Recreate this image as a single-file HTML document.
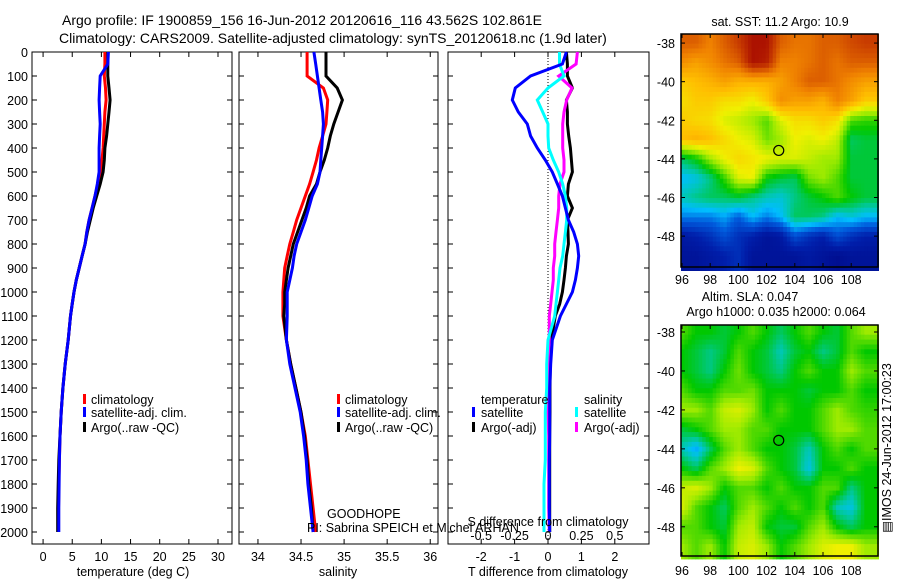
<!DOCTYPE html>
<html><head><meta charset="utf-8"><style>
html,body{margin:0;padding:0;background:#fff}
svg{display:block;font-family:"Liberation Sans",sans-serif}
</style></head><body>
<svg id="fig" width="900" height="580" viewBox="0 0 900 580" xmlns="http://www.w3.org/2000/svg">
<rect width="900" height="580" fill="#fff"/>
<text x="62" y="25" font-size="14">Argo profile: IF 1900859_156 16-Jun-2012 20120616_116 43.562S 102.861E</text>
<text x="59" y="43" font-size="14">Climatology: CARS2009. Satellite-adjusted climatology: synTS_20120618.nc (1.9d later)</text>
<g id="maps"></g>
<g id="panels"></g>
</svg>
<script>
// ---------- data ----------
const depths = [0,50,100,150,200,250,300,350,400,450,500,550,600,650,700,750,800,850,900,950,1000,1050,1100,1200,1300,1400,1500,1600,1700,1800,1900,2000];
// temperature (deg C)
const tempClim = [10.6,10.6,10.5,10.7,10.8,10.6,10.5,10.4,10.3,10.1,9.9,9.4,8.9,8.4,7.9,7.5,7.2,6.7,6.2,5.7,5.3,5.0,4.7,4.3,3.8,3.4,3.1,2.9,2.8,2.7,2.65,2.6];
const tempSat  = [11.2,11.1,9.8,9.7,9.6,9.7,9.8,9.7,9.6,9.6,9.6,9.3,8.9,8.4,7.9,7.5,7.2,6.7,6.2,5.7,5.3,5.0,4.7,4.3,3.8,3.4,3.1,2.9,2.8,2.75,2.7,2.7];
const tempArgo = [11.1,11.1,11.1,11.3,11.5,11.3,11.1,10.9,10.6,10.5,10.3,9.8,9.2,8.6,8.1,7.6,7.2,6.7,6.2,5.7,5.3,5.0,4.7,4.3,3.8,3.4,3.1,2.9,2.7,2.6,2.5,2.5];
// salinity
const salClim = [34.57,34.57,34.57,34.76,34.81,34.80,34.79,34.75,34.71,34.68,34.64,34.60,34.55,34.50,34.45,34.41,34.37,34.34,34.31,34.30,34.29,34.29,34.29,34.33,34.38,34.44,34.50,34.55,34.58,34.61,34.64,34.67];
const salSat  = [34.65,34.67,34.69,34.71,34.73,34.75,34.76,34.75,34.74,34.73,34.72,34.69,34.63,34.59,34.55,34.50,34.45,34.42,34.40,34.37,34.34,34.34,34.34,34.33,34.37,34.43,34.49,34.53,34.56,34.58,34.61,34.64];
const salArgo = [34.79,34.79,34.79,34.92,34.98,34.93,34.88,34.84,34.81,34.77,34.72,34.68,34.60,34.56,34.51,34.46,34.41,34.38,34.35,34.33,34.31,34.31,34.30,34.33,34.38,34.44,34.50,34.54,34.57,34.59,34.62,34.64];
// differences from climatology
const dTsat  = [0.55,0.43,-0.52,-0.98,-1.07,-0.89,-0.62,-0.52,-0.32,-0.08,0.13,0.28,0.43,0.52,0.61,0.77,0.88,0.92,0.88,0.82,0.73,0.55,0.37,0.13,0.08,0.05,0.05,0.05,0.04,0.04,0.04,0.05];
const dTargo = [0.55,0.58,0.58,0.73,0.55,0.58,0.58,0.62,0.67,0.70,0.73,0.61,0.58,0.73,0.58,0.60,0.61,0.55,0.52,0.48,0.43,0.35,0.22,0.10,0.07,0.06,0.06,0.05,0.05,0.05,0.05,0.05];
const dSsat  = [0.086,0.086,0.12,0.0,-0.08,-0.04,0.0,0.0,0.005,0.04,0.08,0.11,0.13,0.14,0.14,0.13,0.12,0.11,0.09,0.08,0.07,0.06,0.05,0.0,-0.01,-0.01,-0.02,-0.02,-0.02,-0.03,-0.03,-0.03];
const dSargo = [0.22,0.21,0.08,0.18,0.14,0.12,0.11,0.11,0.11,0.12,0.12,0.09,0.08,0.08,0.07,0.06,0.05,0.05,0.04,0.04,0.03,0.02,0.01,0.01,0.0,0.0,0.0,0.005,0.005,0.005,0.005,0.01];
const depthTicks = [0,100,200,300,400,500,600,700,800,900,1000,1100,1200,1300,1400,1500,1600,1700,1800,1900,2000];
const tempTicks = [0,5,10,15,20,25,30];
const salTicks = [34,34.5,35,35.5,36];
const dTTicks = [-2,-1,0,1,2];
const dSTicks = [-0.5,-0.25,0,0.25,0.5];
const latTicks = [-38,-40,-42,-44,-46,-48];
const lonTicks = [96,98,100,102,104,106,108];
// SST map (colour index 0..1), rows lat -38..-49, cols lon 96..109
const sstGrid = [
[0.85,0.85,0.8,0.85,0.9,0.97,0.97,0.85,0.82,0.82,0.85,0.85,0.88,0.9],
[0.78,0.75,0.78,0.82,0.85,0.97,0.95,0.8,0.8,0.82,0.85,0.82,0.85,0.85],
[0.68,0.7,0.72,0.75,0.72,0.72,0.72,0.75,0.8,0.85,0.85,0.82,0.78,0.75],
[0.65,0.68,0.68,0.65,0.65,0.62,0.68,0.78,0.75,0.75,0.72,0.8,0.75,0.68],
[0.68,0.66,0.65,0.6,0.58,0.55,0.5,0.6,0.65,0.65,0.68,0.65,0.5,0.48],
[0.7,0.72,0.7,0.66,0.62,0.6,0.52,0.55,0.62,0.6,0.62,0.58,0.4,0.42],
[0.4,0.45,0.55,0.62,0.66,0.64,0.62,0.6,0.6,0.58,0.55,0.55,0.42,0.42],
[0.3,0.32,0.38,0.48,0.6,0.62,0.45,0.42,0.4,0.52,0.55,0.5,0.42,0.42],
[0.35,0.38,0.4,0.4,0.42,0.38,0.35,0.33,0.38,0.42,0.45,0.5,0.45,0.42],
[0.25,0.25,0.25,0.28,0.22,0.3,0.25,0.3,0.4,0.4,0.38,0.3,0.33,0.3],
[0.1,0.12,0.15,0.2,0.15,0.12,0.08,0.1,0.2,0.15,0.12,0.2,0.15,0.12],
[0.08,0.08,0.1,0.12,0.15,0.08,0.08,0.08,0.08,0.1,0.08,0.06,0.08,0.08]];
const slaGrid = [
[0.5,0.45,0.45,0.42,0.45,0.5,0.45,0.4,0.45,0.5,0.45,0.42,0.5,0.55],
[0.45,0.42,0.38,0.42,0.5,0.45,0.42,0.35,0.42,0.45,0.38,0.42,0.5,0.45],
[0.45,0.42,0.38,0.45,0.52,0.45,0.42,0.38,0.45,0.5,0.45,0.45,0.55,0.5],
[0.5,0.45,0.45,0.5,0.5,0.52,0.45,0.45,0.45,0.42,0.45,0.45,0.5,0.45],
[0.55,0.55,0.5,0.58,0.6,0.55,0.45,0.5,0.45,0.45,0.5,0.55,0.5,0.48],
[0.42,0.45,0.5,0.55,0.55,0.5,0.5,0.45,0.45,0.45,0.5,0.55,0.55,0.5],
[0.35,0.28,0.4,0.5,0.55,0.5,0.45,0.45,0.42,0.35,0.45,0.5,0.45,0.5],
[0.45,0.4,0.5,0.55,0.62,0.6,0.5,0.45,0.42,0.32,0.45,0.45,0.5,0.45],
[0.58,0.6,0.55,0.45,0.5,0.5,0.45,0.5,0.45,0.45,0.5,0.5,0.38,0.45],
[0.6,0.5,0.45,0.4,0.5,0.55,0.5,0.45,0.5,0.45,0.5,0.35,0.32,0.45],
[0.5,0.5,0.45,0.42,0.55,0.58,0.45,0.42,0.42,0.5,0.55,0.45,0.4,0.45],
[0.55,0.5,0.55,0.45,0.58,0.6,0.55,0.45,0.5,0.55,0.6,0.62,0.62,0.55]];
const argoLon = 102.861, argoLat = -43.562;

// ---------- drawing ----------
const NS = "http://www.w3.org/2000/svg";
function mk(tag, attrs, parent, txt){
  const e = document.createElementNS(NS, tag);
  for (const k in attrs) e.setAttribute(k, attrs[k]);
  if (txt !== undefined) e.textContent = txt;
  parent.appendChild(e); return e;
}
const panels = document.getElementById('panels');
const Y0 = 52, Y1 = 544;
const yD = d => Y0 + d * 0.24;

function axisFrame(g, x0, x1, name){
  const r = mk('rect', {x:x0, y:Y0, width:x1-x0, height:Y1-Y0, fill:'none', stroke:'#000', 'stroke-width':1}, g);
  
  
  depthTicks.forEach(d => {
    mk('line', {x1:x0, x2:x0+5, y1:yD(d), y2:yD(d), stroke:'#000'}, g);
    mk('line', {x1:x1, x2:x1-5, y1:yD(d), y2:yD(d), stroke:'#000'}, g);
  });
}
function xTicks(g, ticks, fx, labels){
  ticks.forEach((t,i) => {
    const x = fx(t);
    mk('line', {x1:x, x2:x, y1:Y1, y2:Y1-5, stroke:'#000'}, g);
    mk('line', {x1:x, x2:x, y1:Y0, y2:Y0+5, stroke:'#000'}, g);
    const tl = mk('text', {x:x, y:Y1+17, 'font-size':12.5, 'text-anchor':'middle'}, g, labels ? labels[i] : String(t));
    
    
  });
}
function line(g, xs, fx, color, name){
  const pts = depths.map((d,i) => fx(xs[i]).toFixed(1) + ',' + yD(d).toFixed(1)).join(' ');
  const p = mk('polyline', {points:pts, fill:'none', stroke:color, 'stroke-width':3, 'stroke-linejoin':'miter'}, g);
  
  
}
function legend(g, x, items, name){
  items.forEach((it, i) => {
    const yy = [400,413,428][i];
    mk('rect', {x:x, y:yy-6, width:3, height:10, fill:it[1]}, g);
    const t = mk('text', {x:x+8, y:yy+4, 'font-size':12.5}, g, it[0]);
    
    
  });
}

// Panel 1 temperature
const g1 = mk('g', {}, panels);


const fT = v => 32 + (v + 1.9) / 34.3 * 200;
axisFrame(g1, 32, 232, 'temperature');
depthTicks.forEach(d => {
  const t = mk('text', {x:28, y:yD(d)+5, 'font-size':12.5, 'text-anchor':'end'}, g1, String(d));
  
  
});
xTicks(g1, tempTicks, fT);
mk('text', {x:133, y:576, 'font-size':12.5, 'text-anchor':'middle'}, g1, 'temperature (deg C)');
line(g1, tempClim, fT, '#f00', 'temp-climatology-line');
line(g1, tempArgo, fT, '#000', 'temp-argo-line');
line(g1, tempSat, fT, '#00f', 'temp-satellite-line');
legend(g1, 83, [['climatology','#f00'],['satellite-adj. clim.','#00f'],['Argo(..raw -QC)','#000']], 'temp-legend');

// Panel 2 salinity
const g2 = mk('g', {}, panels);


const fS = v => 239 + (v - 33.78) / 2.31 * 199;
axisFrame(g2, 239, 438, 'salinity');
xTicks(g2, salTicks, fS);
mk('text', {x:338, y:576, 'font-size':12.5, 'text-anchor':'middle'}, g2, 'salinity');
line(g2, salClim, fS, '#f00', 'sal-climatology-line');
line(g2, salArgo, fS, '#000', 'sal-argo-line');
line(g2, salSat, fS, '#00f', 'sal-satellite-line');
legend(g2, 337, [['climatology','#f00'],['satellite-adj. clim.','#00f'],['Argo(..raw -QC)','#000']], 'sal-legend');
mk('text', {x:327, y:518, 'font-size':12.5}, g2, 'GOODHOPE');

// Panel 3 differences
const g3 = mk('g', {}, panels);


const fdT = v => 548 + v * 33.4;
const fdS = v => 548 + v * 133.6;
axisFrame(g3, 448, 649, 'difference');
xTicks(g3, dTTicks, fdT);
mk('line', {x1:548, x2:548, y1:Y0, y2:Y1, stroke:'#000', 'stroke-dasharray':'1,2'}, g3);
line(g3, dTargo, fdT, '#000', 'dT-argo-line');
line(g3, dSargo, fdS, '#f0f', 'dS-argo-line');
line(g3, dSsat, fdS, '#0ff', 'dS-satellite-line');
line(g3, dTsat, fdT, '#00f', 'dT-satellite-line');
mk('text', {x:548, y:576, 'font-size':12.5, 'text-anchor':'middle'}, g3, 'T difference from climatology');
mk('text', {x:548, y:526, 'font-size':12.5, 'text-anchor':'middle'}, g3, 'S difference from climatology');
dSTicks.forEach(t => {
  const tl = mk('text', {x:fdS(t), y:540, 'font-size':12.5, 'text-anchor':'middle'}, g3, String(t).replace('0.','0.').replace(/^-0\./,'-0.'));
  
  
});
mk('text', {x:481, y:404, 'font-size':12.5}, g3, 'temperature');
mk('text', {x:584, y:404, 'font-size':12.5}, g3, 'salinity');
[['satellite','#00f',472,413],['Argo(-adj)','#000',472,428],['satellite','#0ff',575,413],['Argo(-adj)','#f0f',575,428]].forEach(it => {
  mk('rect', {x:it[2], y:it[3]-6, width:3, height:10, fill:it[1]}, g3);
  const t = mk('text', {x:it[2]+9, y:it[3]+4, 'font-size':12.5}, g3, it[0]);
  
  
});
mk('text', {x:307, y:532, 'font-size':12.5}, panels, 'PI: Sabrina SPEICH et Michel ARHAN');

// ---------- maps ----------
const stops = [[0,[0,0,120]],[0.12,[0,30,170]],[0.22,[0,90,220]],[0.3,[0,190,255]],[0.36,[0,200,170]],[0.45,[0,200,0]],[0.55,[160,235,0]],[0.62,[240,240,0]],[0.7,[255,190,0]],[0.8,[240,130,0]],[0.9,[200,60,0]],[1,[160,0,0]]];
function cmap(v){
  v = Math.max(0, Math.min(1, v));
  for (let i = 1; i < stops.length; i++){
    if (v <= stops[i][0]){
      const a = stops[i-1], b = stops[i], f = (v - a[0]) / (b[0] - a[0]);
      return 'rgb(' + [0,1,2].map(k => Math.round(a[1][k] + f*(b[1][k]-a[1][k]))).join(',') + ')';
    }
  }
  return 'rgb(160,0,0)';
}
function sample(grid, lat, lon){
  const r = Math.max(0, Math.min(11, -38 - lat)), c = Math.max(0, Math.min(13, lon - 96));
  const r0 = Math.floor(r), c0 = Math.floor(c), r1 = Math.min(11, r0+1), c1 = Math.min(13, c0+1);
  const fr = r - r0, fc = c - c0;
  return grid[r0][c0]*(1-fr)*(1-fc) + grid[r0][c1]*(1-fr)*fc + grid[r1][c0]*fr*(1-fc) + grid[r1][c1]*fr*fc;
}
const maps = document.getElementById('maps');
function drawMap(grid, top, bottom, latTop, latBot, name, labelY){
  const g = mk('g', {}, maps);
  
  
  const x0 = 681, x1 = 878, lonL = 95.93, lonR = 109.9;
  const fx = lon => x0 + (lon - lonL) / (lonR - lonL) * (x1 - x0);
  const fy = lat => top + (latTop - lat) / (latTop - latBot) * (bottom - top);
  const step = 0.25;
  for (let lat = latTop; lat > latBot - 1e-6; lat -= step){
    for (let lon = lonL; lon < lonR; lon += step){
      const v = sample(grid, lat - step/2, lon + step/2);
      const xa = fx(lon), ya = fy(lat);
      mk('rect', {x:xa.toFixed(1), y:ya.toFixed(1), width:(fx(lon+step)-xa+0.6).toFixed(1), height:(fy(lat-step)-ya+0.6).toFixed(1), fill:cmap(v)}, g);
    }
  }
  mk('rect', {x:x0, y:top, width:x1-x0, height:bottom-top, fill:'none', stroke:'#000', 'stroke-width':1.5}, g);
  latTicks.forEach(t => {
    const y = fy(t);
    mk('line', {x1:x0, x2:x0+4, y1:y, y2:y, stroke:'#000'}, g);
    mk('line', {x1:x1, x2:x1-4, y1:y, y2:y, stroke:'#000'}, g);
    const tl = mk('text', {x:675, y:y+5, 'font-size':12.5, 'text-anchor':'end'}, g, String(t));
    
    
  });
  lonTicks.forEach(t => {
    const x = fx(t);
    mk('line', {x1:x, x2:x, y1:bottom, y2:bottom-4, stroke:'#000'}, g);
    mk('line', {x1:x, x2:x, y1:top, y2:top+4, stroke:'#000'}, g);
    const tl = mk('text', {x:x, y:labelY, 'font-size':12.5, 'text-anchor':'middle'}, g, String(t));
    
    
  });
  const c = mk('circle', {cx:fx(argoLon), cy:fy(argoLat), r:5, fill:'none', stroke:'#000', 'stroke-width':1.2}, g);
  
  
}
drawMap(sstGrid, 34, 267, -37.53, -49.6, 'sst-map', 284);
drawMap(slaGrid, 325, 556, -37.64, -49.5, 'sla-map', 575);
mk('text', {x:780, y:26, 'font-size':12.5, 'text-anchor':'middle'}, maps, 'sat. SST: 11.2 Argo: 10.9');
mk('text', {x:750, y:301, 'font-size':12.5, 'text-anchor':'middle'}, maps, 'Altim. SLA: 0.047');
mk('text', {x:776, y:316, 'font-size':12.5, 'text-anchor':'middle'}, maps, 'Argo h1000: 0.035 h2000: 0.064');
mk('text', {x:0, y:0, 'font-size':12.5, 'text-anchor':'middle', transform:'translate(891,448) rotate(-90)'}, maps, '\u25A4IMOS 24-Jun-2012 17:00:23');
</script>
</body></html>
